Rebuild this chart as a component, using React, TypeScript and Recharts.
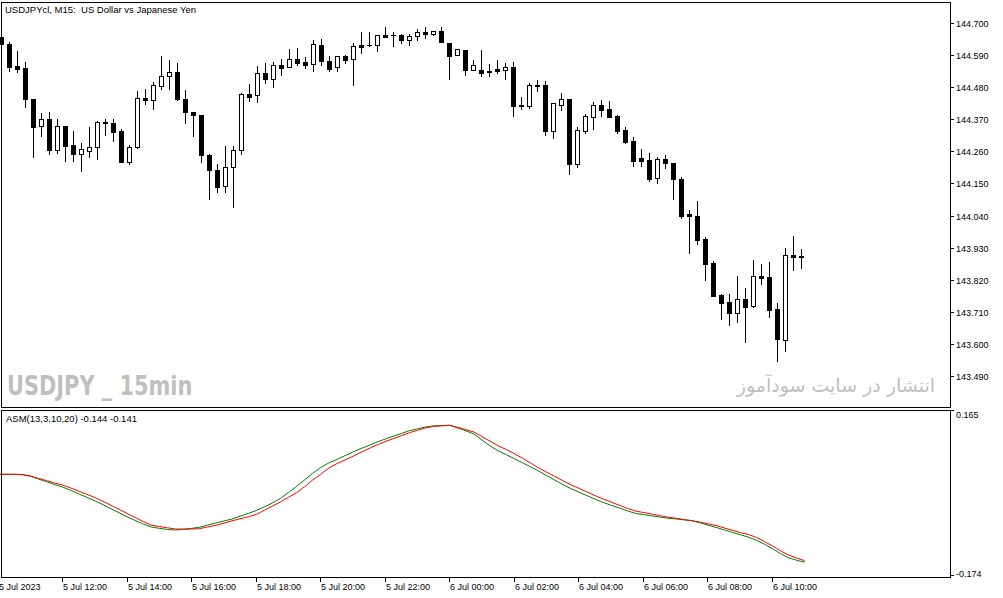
import React from 'react';
import { ComposedChart, Bar, Line, XAxis, YAxis } from 'recharts';

// ---- data ----
const OPEN = [
  144.652, 144.629, 144.553, 144.545, 144.439, 144.346, 144.371, 144.266, 144.346, 144.282,
  144.250, 144.262, 144.274, 144.361, 144.357, 144.330, 144.225, 144.274, 144.442, 144.436,
  144.484, 144.517, 144.532, 144.439, 144.394, 144.385, 144.249, 144.196, 144.140, 144.205,
  144.264, 144.456, 144.452, 144.528, 144.507, 144.555, 144.548, 144.576, 144.566, 144.558,
  144.623, 144.569, 144.548, 144.586, 144.576, 144.623, 144.624, 144.623, 144.659, 144.660,
  144.659, 144.641, 144.654, 144.669, 144.661, 144.672, 144.631, 144.589, 144.606, 144.540,
  144.538, 144.531, 144.542, 144.538, 144.549, 144.420, 144.417, 144.486, 144.486, 144.331,
  144.418, 144.438, 144.218, 144.331, 144.379, 144.418, 144.404, 144.380, 144.332, 144.294,
  144.236, 144.230, 144.168, 144.234, 144.219, 144.165, 144.045, 144.038, 143.959, 143.876,
  143.767, 143.743, 143.705, 143.754, 143.730, 143.833, 143.829, 143.720, 143.614, 143.904,
  143.900,
];
const HIGH = [
  144.655, 144.635, 144.604, 144.566, 144.441, 144.393, 144.395, 144.370, 144.347, 144.330,
  144.289, 144.344, 144.364, 144.372, 144.372, 144.338, 144.282, 144.468, 144.473, 144.499,
  144.587, 144.572, 144.564, 144.470, 144.395, 144.386, 144.251, 144.217, 144.279, 144.279,
  144.459, 144.491, 144.554, 144.563, 144.566, 144.577, 144.611, 144.613, 144.582, 144.641,
  144.645, 144.586, 144.587, 144.590, 144.630, 144.669, 144.669, 144.659, 144.686, 144.669,
  144.663, 144.661, 144.679, 144.686, 144.672, 144.686, 144.632, 144.610, 144.607, 144.572,
  144.606, 144.559, 144.573, 144.563, 144.566, 144.445, 144.493, 144.505, 144.502, 144.425,
  144.459, 144.439, 144.344, 144.388, 144.428, 144.436, 144.433, 144.384, 144.342, 144.309,
  144.267, 144.253, 144.240, 144.246, 144.220, 144.171, 144.058, 144.089, 143.967, 143.884,
  143.770, 143.771, 143.833, 143.793, 143.888, 143.874, 143.881, 143.741, 143.929, 143.970,
  143.925,
];
const LOW = [
  144.621, 144.536, 144.533, 144.413, 144.240, 144.312, 144.251, 144.255, 144.228, 144.226,
  144.194, 144.242, 144.233, 144.317, 144.297, 144.224, 144.217, 144.273, 144.421, 144.406,
  144.474, 144.473, 144.437, 144.356, 144.314, 144.224, 144.097, 144.121, 144.122, 144.069,
  144.251, 144.434, 144.430, 144.493, 144.482, 144.523, 144.548, 144.555, 144.547, 144.534,
  144.555, 144.536, 144.536, 144.562, 144.488, 144.596, 144.622, 144.603, 144.653, 144.622,
  144.632, 144.626, 144.643, 144.650, 144.659, 144.635, 144.509, 144.589, 144.523, 144.539,
  144.517, 144.518, 144.530, 144.507, 144.382, 144.406, 144.410, 144.468, 144.317, 144.307,
  144.402, 144.183, 144.207, 144.324, 144.338, 144.382, 144.378, 144.324, 144.290, 144.211,
  144.211, 144.159, 144.153, 144.202, 144.096, 144.033, 143.913, 143.941, 143.820, 143.764,
  143.686, 143.666, 143.676, 143.608, 143.728, 143.806, 143.693, 143.542, 143.577, 143.854,
  143.861,
];
const CLOSE = [
  144.628, 144.550, 144.543, 144.441, 144.342, 144.371, 144.266, 144.346, 144.279, 144.251,
  144.268, 144.275, 144.360, 144.356, 144.327, 144.225, 144.275, 144.442, 144.436, 144.486,
  144.517, 144.531, 144.438, 144.394, 144.384, 144.249, 144.196, 144.137, 144.205, 144.264,
  144.456, 144.447, 144.528, 144.507, 144.555, 144.547, 144.576, 144.564, 144.557, 144.627,
  144.569, 144.542, 144.586, 144.573, 144.620, 144.619, 144.624, 144.658, 144.653, 144.658,
  144.643, 144.654, 144.668, 144.661, 144.672, 144.636, 144.588, 144.610, 144.540, 144.555,
  144.530, 144.537, 144.535, 144.549, 144.417, 144.417, 144.486, 144.484, 144.331, 144.425,
  144.438, 144.218, 144.332, 144.380, 144.418, 144.402, 144.379, 144.331, 144.293, 144.228,
  144.228, 144.166, 144.234, 144.219, 144.164, 144.039, 144.038, 143.957, 143.875, 143.765,
  143.741, 143.707, 143.754, 143.726, 143.832, 143.827, 143.717, 143.618, 143.904, 143.899,
  143.898,
];
const ASM_MAIN = [
  0.0345, 0.0345, 0.0345, 0.0335, 0.0306, 0.0249, 0.0196, 0.0138, 0.0087, 0.0020,
  -0.0051, -0.0122, -0.0193, -0.0272, -0.0354, -0.0435, -0.0518, -0.0591, -0.0664, -0.0725,
  -0.0752, -0.0776, -0.0786, -0.0772, -0.0752, -0.0729, -0.0685, -0.0644, -0.0603, -0.0563,
  -0.0506, -0.0451, -0.0390, -0.0319, -0.0238, -0.0147, -0.0025, 0.0097, 0.0229, 0.0365,
  0.0483, 0.0574, 0.0645, 0.0722, 0.0797, 0.0868, 0.0933, 0.1000, 0.1061, 0.1118,
  0.1173, 0.1230, 0.1268, 0.1305, 0.1329, 0.1335, 0.1339, 0.1285, 0.1226, 0.1163,
  0.1041, 0.0919, 0.0822, 0.0743, 0.0661, 0.0580, 0.0497, 0.0412, 0.0320, 0.0229,
  0.0138, 0.0054, -0.0017, -0.0088, -0.0159, -0.0226, -0.0283, -0.0339, -0.0396, -0.0449,
  -0.0473, -0.0498, -0.0522, -0.0547, -0.0561, -0.0579, -0.0597, -0.0640, -0.0687, -0.0733,
  -0.0782, -0.0833, -0.0882, -0.0930, -0.0995, -0.1074, -0.1164, -0.1265, -0.1352, -0.1400,
  -0.1440,
];
const ASM_SIGNAL = [
  0.0345, 0.0345, 0.0345, 0.0341, 0.0310, 0.0263, 0.0217, 0.0168, 0.0127, 0.0067,
  0.0004, -0.0061, -0.0126, -0.0203, -0.0285, -0.0366, -0.0451, -0.0532, -0.0614, -0.0689,
  -0.0715, -0.0741, -0.0766, -0.0766, -0.0766, -0.0758, -0.0723, -0.0691, -0.0648, -0.0599,
  -0.0559, -0.0518, -0.0471, -0.0386, -0.0301, -0.0218, -0.0122, -0.0031, 0.0093, 0.0229,
  0.0345, 0.0471, 0.0560, 0.0635, 0.0710, 0.0791, 0.0870, 0.0942, 0.1009, 0.1069,
  0.1130, 0.1189, 0.1238, 0.1287, 0.1317, 0.1329, 0.1339, 0.1297, 0.1250, 0.1203,
  0.1108, 0.1017, 0.0923, 0.0848, 0.0765, 0.0672, 0.0574, 0.0477, 0.0387, 0.0302,
  0.0217, 0.0134, 0.0060, -0.0013, -0.0088, -0.0157, -0.0218, -0.0283, -0.0346, -0.0400,
  -0.0431, -0.0461, -0.0494, -0.0524, -0.0547, -0.0573, -0.0597, -0.0626, -0.0660, -0.0695,
  -0.0743, -0.0790, -0.0839, -0.0875, -0.0936, -0.1022, -0.1109, -0.1210, -0.1296, -0.1354,
  -0.1410,
];
const TIME_LABELS = [
  '5 Jul 2023', '5 Jul 12:00', '5 Jul 14:00', '5 Jul 16:00', '5 Jul 18:00', '5 Jul 20:00',
  '5 Jul 22:00', '6 Jul 00:00', '6 Jul 02:00', '6 Jul 04:00', '6 Jul 06:00', '6 Jul 08:00',
  '6 Jul 10:00',
];
const BARS_PER_LABEL = 8;
const PRICE_TICKS = [143.49, 143.6, 143.71, 143.82, 143.93, 144.04, 144.15, 144.26, 144.37, 144.48, 144.59, 144.7];
const ASM_TICKS = [0.165, -0.174];
const TITLE = 'USDJPYcl, M15:  US Dollar vs Japanese Yen';
const ASM_LABEL = 'ASM(13,3,10,20) -0.144 -0.141';
const WATERMARK_LEFT = 'USDJPY _ 15min';
const WATERMARK_RIGHT = 'انتشار در سایت سودآموز';
const SLOTS = 119;

const data = Array.from({ length: SLOTS }, (_, i) =>
  i < OPEN.length
    ? {
        i,
        o: OPEN[i],
        h: HIGH[i],
        l: LOW[i],
        c: CLOSE[i],
        range: [LOW[i], HIGH[i]],
        g: ASM_MAIN[i],
        r: ASM_SIGNAL[i],
      }
    : { i, o: null, h: null, l: null, c: null, range: null, g: null, r: null }
);
const TIME_TICKS = TIME_LABELS.map((_, j) => j * BARS_PER_LABEL);

const FONT = "'Liberation Sans', Arial, sans-serif";

const Candle = (props: any) => {
  const { x, y, width, height, payload } = props;
  if (!payload || payload.o == null) return null;
  const { o, h, l, c } = payload;
  const top = Math.min(y, y + height);
  const hgt = Math.abs(height);
  const ratio = h - l > 0 ? hgt / (h - l) : 0;
  const py = (v: number) => top + (h - v) * ratio;
  const col = Math.floor(x + width / 2);
  const wx = col + 0.5;
  const yh = Math.round(py(h));
  const yl = Math.round(py(l));
  const yo = Math.round(py(o));
  const yc = Math.round(py(c));
  const bTop = Math.min(yo, yc);
  const bBot = Math.max(yo, yc);
  const bull = c >= o;
  return (
    <g>
      <line x1={wx} x2={wx} y1={yh} y2={yl + 1} stroke="#000" strokeWidth={1} />
      {bBot - bTop < 1 ? (
        <line x1={col - 2} x2={col + 3} y1={bTop + 0.5} y2={bTop + 0.5} stroke="#000" strokeWidth={1} />
      ) : (
        <rect
          x={col - 1.5}
          y={bTop + 0.5}
          width={4}
          height={bBot - bTop}
          fill={bull ? '#fff' : '#000'}
          stroke="#000"
          strokeWidth={1}
        />
      )}
    </g>
  );
};

const PriceTick = (props: any) => {
  const { x, y, payload } = props;
  const yy = Math.round(y) + 0.5;
  return (
    <g>
      <line x1={x + 1} x2={x + 4} y1={yy} y2={yy} stroke="#000" strokeWidth={1} />
      <text x={x + 6} y={yy} dominantBaseline="central" fontFamily={FONT} fontSize={9} fill="#000">
        {Number(payload.value).toFixed(3)}
      </text>
    </g>
  );
};

const AsmTick = (props: any) => {
  const { x, y, payload } = props;
  const v = Number(payload.value);
  const isTop = v > 0;
  const ty = isTop ? Math.round(y) + 0.5 : Math.round(y) - 1.5;
  const textY = isTop ? y + 4.5 : y - 3;
  return (
    <g>
      <line x1={x + 1} x2={x + 4} y1={ty} y2={ty} stroke="#000" strokeWidth={1} />
      <text x={x + 6} y={textY} dominantBaseline="central" fontFamily={FONT} fontSize={9} fill="#000">
        {v.toFixed(3)}
      </text>
    </g>
  );
};

const TimeTick = (props: any) => {
  const { x, y, payload } = props;
  const idx = TIME_TICKS.indexOf(Number(payload.value));
  const col = Math.floor(x);
  return (
    <g>
      <line x1={col + 0.5} x2={col + 0.5} y1={y + 1} y2={y + 5} stroke="#000" strokeWidth={1} />
      <text x={col + 1} y={y + 9.5} dominantBaseline="central" textAnchor="start" fontFamily={FONT} fontSize={9} fill="#000">
        {idx >= 0 ? TIME_LABELS[idx] : ''}
      </text>
    </g>
  );
};

export default function App() {
  return (
    <div style={{ position: 'absolute', left: 0, top: 0, width: 1003, height: 598, background: '#fff', overflow: 'hidden' }}>
      {/* main price pane */}
      <div style={{ position: 'absolute', left: -2, top: 0 }}>
        <ComposedChart
          width={1005}
          height={407}
          data={data}
          margin={{ top: 2, right: 0, bottom: 0, left: 0 }}
          barCategoryGap={0}
          barGap={0}
        >
          <XAxis dataKey="i" type="category" hide />
          <YAxis
            orientation="right"
            type="number"
            domain={[143.3837, 144.7719]}
            allowDataOverflow
            ticks={PRICE_TICKS}
            interval={0}
            axisLine={false}
            tickLine={false}
            tickSize={0}
            tickMargin={0}
            width={53}
            tick={<PriceTick />}
          />
          <Bar dataKey="range" shape={<Candle />} isAnimationActive={false} barSize={8} />
        </ComposedChart>
      </div>

      {/* indicator pane */}
      <div style={{ position: 'absolute', left: -2, top: 400 }}>
        <ComposedChart width={1005} height={198} data={data} margin={{ top: 10, right: 0, bottom: 0, left: 0 }}>
          <XAxis
            dataKey="i"
            type="category"
            ticks={TIME_TICKS}
            interval={0}
            axisLine={false}
            tickLine={false}
            tickSize={0}
            tickMargin={0}
            height={21}
            tick={<TimeTick />}
          />
          <YAxis
            orientation="right"
            type="number"
            domain={[-0.174, 0.165]}
            allowDataOverflow
            ticks={ASM_TICKS}
            interval={0}
            axisLine={false}
            tickLine={false}
            tickSize={0}
            tickMargin={0}
            width={53}
            tick={<AsmTick />}
          />
          <Line dataKey="g" type="linear" stroke="#008000" strokeWidth={1} dot={false} activeDot={false} isAnimationActive={false} />
          <Line dataKey="r" type="linear" stroke="#ff0000" strokeWidth={1} dot={false} activeDot={false} isAnimationActive={false} />
        </ComposedChart>
      </div>

      {/* pane borders */}
      <svg width={1003} height={598} style={{ position: 'absolute', left: 0, top: 0, pointerEvents: 'none' }}>
        <rect x={1.5} y={2.5} width={949} height={405} fill="none" stroke="#000" strokeWidth={1} />
        <rect x={1.5} y={410.5} width={949} height={167} fill="none" stroke="#000" strokeWidth={1} />
      </svg>

      {/* texts */}
      <div style={{ position: 'absolute', left: 5, top: 4, fontFamily: FONT, fontSize: 9.5, whiteSpace: 'pre', color: '#000', lineHeight: '12px' }}>
        {TITLE}
      </div>
      <div style={{ position: 'absolute', left: 6, top: 413, fontFamily: FONT, fontSize: 9.5, whiteSpace: 'pre', color: '#000', lineHeight: '12px' }}>
        {ASM_LABEL}
      </div>
      <div
        style={{
          position: 'absolute',
          left: 7,
          top: 370,
          fontFamily: "'Liberation Sans Narrow', 'DejaVu Sans Condensed', sans-serif",
          fontWeight: 'bold',
          fontSize: 27,
          lineHeight: '32px',
          color: '#c0c0c0',
          whiteSpace: 'pre',
          transform: 'scaleX(0.86)',
          transformOrigin: 'left center',
        }}
      >
        {WATERMARK_LEFT}
      </div>
      <div
        dir="rtl"
        style={{
          position: 'absolute',
          right: 1003 - 935,
          top: 372,
          fontFamily: "'DejaVu Sans', sans-serif",
          fontSize: 19,
          lineHeight: '26px',
          color: '#c0c0c0',
          whiteSpace: 'pre',
        }}
      >
        {WATERMARK_RIGHT}
      </div>
    </div>
  );
}
